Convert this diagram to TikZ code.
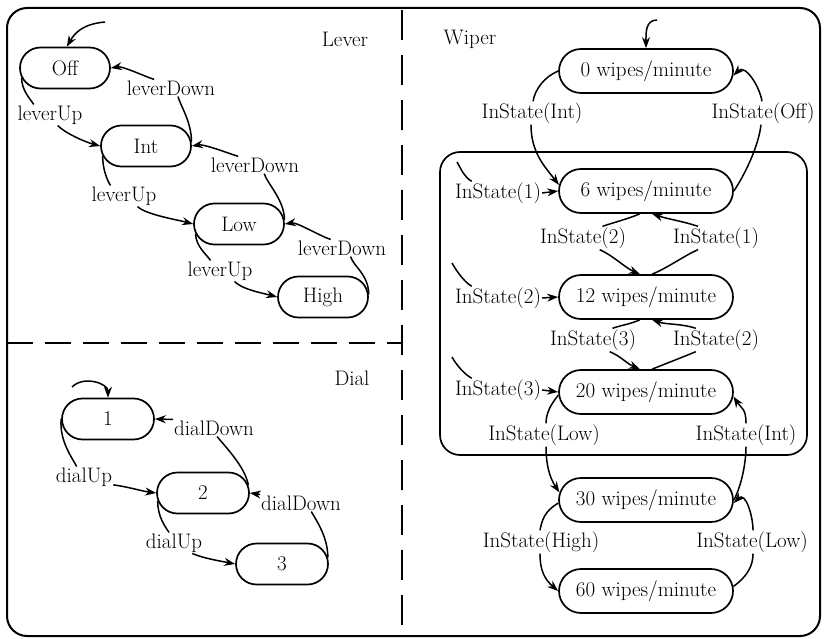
\documentclass[tikz,border=0pt]{standalone}
\usetikzlibrary{shapes.misc,arrows.meta}
\begin{document}
\begin{tikzpicture}[x=1pt,y=-1pt,
  txt/.style={font=\fontsize{21}{25}\selectfont},
  state/.style={rounded rectangle, draw, line width=1.7pt, minimum width=90pt, minimum height=41pt, inner sep=0pt, txt},
  wstate/.style={state, minimum width=174pt, minimum height=44pt},
  lab/.style={inner sep=1pt, txt},
  tr/.style={line width=1.5pt},
  arr/.style={tr, -{Stealth[length=11pt,width=8pt]}},
  frame/.style={line width=2pt},
  vsepline/.style={line width=1.8pt, dash pattern=on 30pt off 15pt},
  hsepline/.style={line width=1.8pt, dash pattern=on 26pt off 12pt}]
\useasboundingbox (0,0) rectangle (824,639);
% frames
\draw[frame, rounded corners=20pt] (7,8) rectangle (820,636);
\draw[vsepline] (402,10) -- (402,636);
\draw[hsepline] (7,343) -- (402,343);
\draw[line width=1.7pt, rounded corners=20pt] (440,152) rectangle (807,455);
% section titles
\node[txt] (tlever) at (345,39) {Lever};
\node[txt] (twiper) at (470,39) {Wiper};
\node[txt] (tdial) at (352,378) {Dial};
% ---------------- Lever ----------------
\node[state] (off) at (65,68) {Off};
\node[state] (int) at (146,146) {Int};
\node[state] (low) at (239,224) {Low};
\node[state] (high) at (323,297) {High};
\node[lab] (lu1) at (50,115) {leverUp};
\node[lab] (ld1) at (171,88) {leverDown};
\node[lab] (lu2) at (124,196) {leverUp};
\node[lab] (ld2) at (255,165) {leverDown};
\node[lab] (lu3) at (220,271) {leverUp};
\node[lab] (ld3) at (342,248) {leverDown};
\coordinate (linit) at (105,22);
\draw[arr] (linit) .. controls +(-22,2) and +(8,-14) .. (off.85);
\draw[tr] (off.193) .. controls +(0,12) and +(-4,-6) .. (lu1.147);
\draw[arr] (lu1.-54) .. controls +(8,8) and +(-15,-4) .. (int.west);
\draw[tr] (int.5) .. controls +(0,-20) and +(3,10) .. (ld1.-51);
\draw[arr] (ld1.153) .. controls +(-12,-4) and +(12,-2) .. (off.east);
\draw[tr] (int.193) .. controls +(0,12) and +(-4,-6) .. (lu2.142);
\draw[arr] (lu2.-38) .. controls +(8,8) and +(-15,-4) .. (low.west);
\draw[tr] (low.5) .. controls +(0,-20) and +(3,10) .. (ld2.-43);
\draw[arr] (ld2.153) .. controls +(-12,-4) and +(12,-2) .. (int.east);
\draw[tr] (low.193) .. controls +(0,12) and +(-4,-6) .. (lu3.132);
\draw[arr] (lu3.-36) .. controls +(8,8) and +(-15,-4) .. (high.west);
\draw[tr] (high.3) .. controls +(0,-20) and +(3,10) .. (ld3.-45);
\draw[arr] (ld3.143) .. controls +(-12,-4) and +(12,-2) .. (low.east);
% ---------------- Dial ----------------
\node[state, minimum width=92pt] (d1) at (108,419) {1};
\node[state, minimum width=92pt] (d2) at (203,493) {2};
\node[state, minimum width=92pt] (d3) at (282,564) {3};
\node[lab] (du1) at (84,477) {dialUp};
\node[lab] (dd1) at (214,428) {dialDown};
\node[lab] (du2) at (174,543) {dialUp};
\node[lab] (dd2) at (301,503) {dialDown};
\coordinate (dinit) at (72,387);
\draw[arr] (dinit) .. controls +(12,-12) and +(0,-14) .. (d1.north);
\draw[tr] (d1.west) .. controls +(-2,22) and +(-4,-8) .. (du1.125);
\draw[arr] (du1.-15) .. controls +(15,2) and +(-15,-2) .. (d2.west);
\draw[tr] (d2.10) .. controls +(-3,-18) and +(8,10) .. (dd1.-70);
\draw[arr] (dd1.north west) -- (d1.east);
\draw[tr] (d2.190) .. controls +(0,16) and +(-4,-6) .. (du2.115);
\draw[arr] (du2.-30) .. controls +(12,5) and +(-15,-3) .. (d3.west);
\draw[tr] (d3.8) .. controls +(0,-20) and +(6,10) .. (dd2.-40);
\draw[arr] (dd2.north west) -- (d2.east);
% ---------------- Wiper ----------------
\node[wstate] (w0) at (646,71) {0 wipes/minute};
\node[wstate] (w6) at (646,191) {6 wipes/minute};
\node[wstate] (w12) at (646,297) {12 wipes/minute};
\node[wstate] (w20) at (646,392) {20 wipes/minute};
\node[wstate] (w30) at (646,500) {30 wipes/minute};
\node[wstate] (w60) at (646,591) {60 wipes/minute};
\node[lab] (si1) at (532,113) {InState(Int)};
\node[lab] (so1) at (763,113) {InState(Off)};
\node[lab] (sL1) at (498,193) {InState(1)};
\node[lab] (sL2) at (498,298) {InState(2)};
\node[lab] (sL3) at (498,390) {InState(3)};
\node[lab] (d12) at (583,238) {InState(2)};
\node[lab] (u12) at (716,238) {InState(1)};
\node[lab] (d20) at (593,340) {InState(3)};
\node[lab] (u20) at (716,340) {InState(2)};
\node[lab] (sl) at (544,435) {InState(Low)};
\node[lab] (si2) at (746,435) {InState(Int)};
\node[lab] (sh) at (541,542) {InState(High)};
\node[lab] (sl2) at (752,542) {InState(Low)};
\coordinate (winit) at (657,20);
\draw[arr] (winit) .. controls +(-12,0) and +(0,-14) .. (w0.north);
\draw[tr] (w0.west) .. controls +(-14,6) and +(2,-12) .. (si1.85);
\draw[arr] (si1.-95) .. controls +(0,28) and +(-14,-18) .. (w6.176);
\draw[tr] (w6.east) .. controls +(12,-18) and +(-2,20) .. (so1.-100);
\draw[arr] (so1.95) .. controls +(-2,-14) and +(12,-12) .. (w0.-3);
\coordinate (e1) at (457,162);
\coordinate (e2) at (452,263);
\coordinate (e3) at (452,357);
\draw[tr] (e1) .. controls +(5,9) and +(-7,-4) .. (sL1.156);
\draw[arr] (sL1.east) -- (w6.west);
\draw[tr] (e2) .. controls +(5,9) and +(-7,-4) .. (sL2.156);
\draw[arr] (sL2.east) -- (w12.west);
\draw[tr] (e3) .. controls +(5,9) and +(-7,-4) .. (sL3.156);
\draw[arr] (sL3.east) -- (w20.west);
\draw[tr] (w6.-105) .. controls +(-12,5) and +(12,-4) .. (d12.31);
\draw[arr] (d12.-35) .. controls +(12,5) and +(-14,-6) .. (w12.105);
\draw[tr] (w12.75) .. controls +(15,-6) and +(-12,5) .. (u12.-147);
\draw[arr] (u12.147) .. controls +(-15,-5) and +(15,5) .. (w6.-75);
\draw[tr] (w12.-105) .. controls +(-12,5) and +(12,-4) .. (d20.31);
\draw[arr] (d20.-35) .. controls +(12,5) and +(-14,-6) .. (w20.105);
\draw[tr] (w20.75) .. controls +(15,-6) and +(-12,5) .. (u20.-150);
\draw[arr] (u20.150) .. controls +(-15,-5) and +(15,5) .. (w12.-75);
\draw[tr] (w20.182) .. controls +(-8,10) and +(0,-10) .. (sl.80);
\draw[arr] (sl.-80) .. controls +(0,18) and +(-10,-15) .. (w30.175);
\draw[tr] (w30.east) .. controls +(8,-15) and +(0,15) .. (si2.-90);
\draw[arr] (si2.90) .. controls +(0,-15) and +(8,12) .. (w20.-3);
\draw[tr] (w30.182) .. controls +(-14,8) and +(2,-10) .. (sh.95);
\draw[arr] (sh.-95) .. controls +(0,16) and +(-14,-12) .. (w60.west);
\draw[tr] (w60.3) .. controls +(14,-10) and +(0,12) .. (sl2.-85);
\draw[arr] (sl2.85) .. controls +(0,-14) and +(12,-12) .. (w30.-2);
\end{tikzpicture}
\end{document}
